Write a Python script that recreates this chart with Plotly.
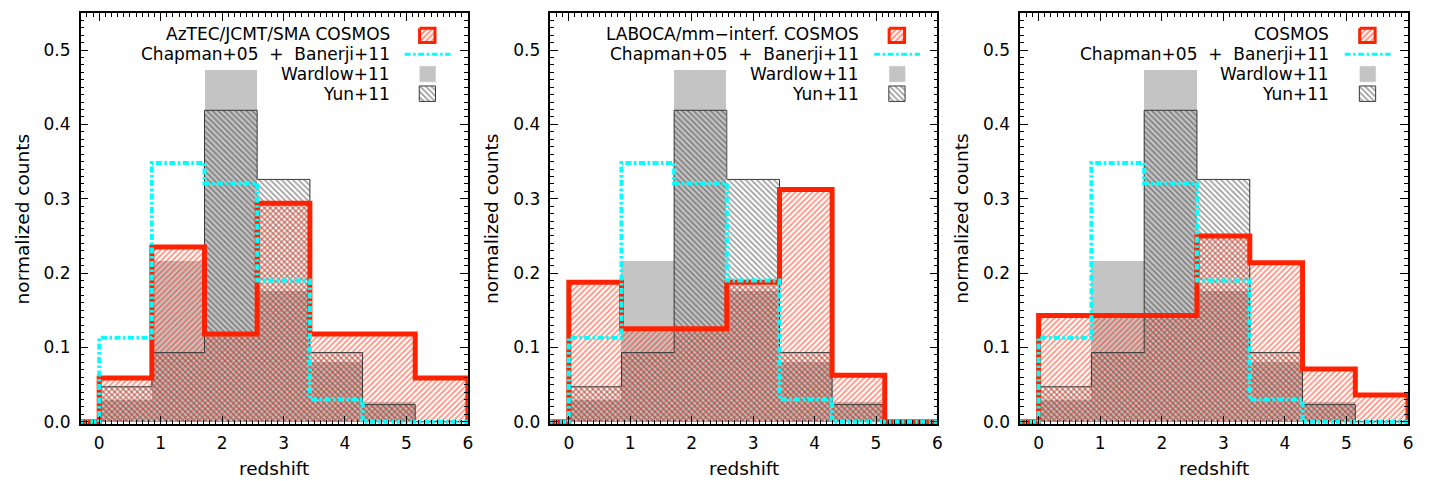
import plotly.graph_objects as go

# ---------------- data ----------------
bin_edges = [0.0, 0.857, 1.714, 2.571, 3.429, 4.286, 5.143, 6.0]

aztec_cosmos = [0.059, 0.235, 0.118, 0.294, 0.118, 0.118, 0.059]
laboca_cosmos = [0.1875, 0.125, 0.125, 0.1875, 0.3125, 0.0625, 0.0]
combined_cosmos = [0.143, 0.143, 0.143, 0.250, 0.214, 0.071, 0.036]
chapman_banerji = [0.113, 0.348, 0.321, 0.190, 0.030, 0.0, 0.0]
wardlow = [0.029, 0.216, 0.473, 0.176, 0.080, 0.027, 0.0]
yun = [0.047, 0.093, 0.419, 0.326, 0.093, 0.023, 0.0]

panel_series = [aztec_cosmos, laboca_cosmos, combined_cosmos]
panel_labels = ["AzTEC/JCMT/SMA COSMOS", "LABOCA/mm\u2212interf. COSMOS", "COSMOS"]
legend_labels = ["Chapman+05  +  Banerji+11", "Wardlow+11", "Yun+11"]
x_ticks = [0, 1, 2, 3, 4, 5, 6]
y_ticks = [0.0, 0.1, 0.2, 0.3, 0.4, 0.5]
x_title = "redshift"
y_title = "normalized counts"

# ---------------- styles ----------------
RED = "#ff2200"
CYAN = "#00ffff"
GRAY = "#c4c4c4"
DARK = "#383838"
FONT = "DejaVu Sans"
XR = [-0.3, 6.0]
YR = [-0.003, 0.55]
W, H = 1432, 481
x_dom_px = [(73, 461.5), (544.3, 932.7), (1015.7, 1405.0)]
y_top_px, y_bot_px = 5.0, 423.0
DASH = "6px,2.5px,2.5px,2.5px"

centers = [(bin_edges[i] + bin_edges[i + 1]) / 2 for i in range(len(bin_edges) - 1)]
widths = [bin_edges[i + 1] - bin_edges[i] for i in range(len(bin_edges) - 1)]


def step_xy(vals, pad=True):
    xs = ([XR[0] - 0.5] if pad else []) + bin_edges[:-1] + [bin_edges[-1]] + ([XR[1] + 0.5] if pad else [])
    ys = ([0.0] if pad else []) + list(vals) + [0.0] + ([0.0] if pad else [])
    return xs, ys


def px2x(p):
    return XR[0] + p / (x_dom_px[0][1] - x_dom_px[0][0]) * (XR[1] - XR[0])


def px2y(p):
    return YR[1] - (p - y_top_px) / (y_bot_px - y_top_px) * (YR[1] - YR[0])


def box(x0, x1, y0, y1):
    return ([px2x(x0), px2x(x1), px2x(x1), px2x(x0), px2x(x0)],
            [px2y(y0), px2y(y0), px2y(y1), px2y(y1), px2y(y0)])


fig = go.Figure()

for k in range(3):
    xa = "x" if k == 0 else f"x{k+1}"
    ya = "y" if k == 0 else f"y{k+1}"
    red_vals = panel_series[k]

    # Wardlow+11 solid gray
    fig.add_trace(go.Bar(x=centers, y=wardlow, width=widths, xaxis=xa, yaxis=ya,
                         marker=dict(color=GRAY, line=dict(width=0)), showlegend=False))
    # Yun+11 hatched
    fig.add_trace(go.Bar(x=centers, y=yun, width=widths, xaxis=xa, yaxis=ya,
                         marker=dict(color="rgba(0,0,0,0)", line=dict(width=0),
                                     pattern=dict(shape="\\", fgcolor=DARK, bgcolor="rgba(0,0,0,0)",
                                                  size=4, solidity=0.4, fillmode="overlay")),
                         showlegend=False))
    # COSMOS red hatched
    fig.add_trace(go.Bar(x=centers, y=red_vals, width=widths, xaxis=xa, yaxis=ya,
                         marker=dict(color="rgba(0,0,0,0)", line=dict(width=0),
                                     pattern=dict(shape="/", fgcolor=RED, bgcolor="rgba(0,0,0,0)",
                                                  size=4, solidity=0.45, fillmode="overlay")),
                         showlegend=False))
    # Yun outline
    sx, sy = step_xy(yun, pad=False)
    fig.add_trace(go.Scatter(x=sx, y=sy, mode="lines", line=dict(color=DARK, width=1, shape="hv"),
                             xaxis=xa, yaxis=ya, showlegend=False, hoverinfo="skip"))
    # red outline
    sx, sy = step_xy(red_vals)
    fig.add_trace(go.Scatter(x=sx, y=sy, mode="lines", line=dict(color=RED, width=5, shape="hv"),
                             xaxis=xa, yaxis=ya, showlegend=False, hoverinfo="skip"))
    # cyan Chapman+Banerji
    sx, sy = step_xy(chapman_banerji)
    fig.add_trace(go.Scatter(x=sx, y=sy, mode="lines",
                             line=dict(color=CYAN, width=4, shape="hv", dash=DASH),
                             xaxis=xa, yaxis=ya, showlegend=False, hoverinfo="skip"))

    # ----- legend icons (layout decoration) -----
    bx, by = box(340.0, 355.5, 20.5, 35.0)
    fig.add_trace(go.Scatter(x=bx, y=by, mode="lines", fill="toself", fillcolor="rgba(0,0,0,0)",
                             fillpattern=dict(shape="/", fgcolor=RED, bgcolor="rgba(0,0,0,0)", size=4, solidity=0.5),
                             line=dict(color=RED, width=3), xaxis=xa, yaxis=ya, showlegend=False, hoverinfo="skip"))
    fig.add_trace(go.Scatter(x=[px2x(325), px2x(371)], y=[px2y(47), px2y(47)], mode="lines",
                             line=dict(color=CYAN, width=3, dash=DASH),
                             xaxis=xa, yaxis=ya, showlegend=False, hoverinfo="skip"))
    bx, by = box(340.3, 356.0, 59.3, 75.0)
    fig.add_trace(go.Scatter(x=bx, y=by, mode="lines", fill="toself", fillcolor=GRAY,
                             line=dict(color=GRAY, width=0.5), xaxis=xa, yaxis=ya, showlegend=False, hoverinfo="skip"))
    bx, by = box(339.7, 356.0, 79.3, 95.0)
    fig.add_trace(go.Scatter(x=bx, y=by, mode="lines", fill="toself", fillcolor="rgba(0,0,0,0)",
                             fillpattern=dict(shape="\\", fgcolor=DARK, bgcolor="rgba(0,0,0,0)", size=4, solidity=0.4),
                             line=dict(color=DARK, width=1), xaxis=xa, yaxis=ya, showlegend=False, hoverinfo="skip"))

annotations = []
axis_common = dict(showline=True, linecolor="black", linewidth=1.5, mirror="ticks", ticks="inside",
                   tickcolor="black", tickwidth=1, showgrid=False, zeroline=False,
                   tickfont=dict(family=FONT, size=17, color="black"))
layout = dict(width=W, height=H, autosize=False, margin=dict(l=0, r=0, t=0, b=0),
              plot_bgcolor="white", paper_bgcolor="white", barmode="overlay", bargap=0,
              showlegend=False)

y_dom = [(H - y_bot_px) / H, (H - y_top_px) / H]
for k in range(3):
    xname = "xaxis" if k == 0 else f"xaxis{k+1}"
    yname = "yaxis" if k == 0 else f"yaxis{k+1}"
    xref = "x" if k == 0 else f"x{k+1}"
    yref = "y" if k == 0 else f"y{k+1}"
    x0p, x1p = x_dom_px[k]
    layout[xname] = dict(axis_common, domain=[x0p / W, x1p / W], range=XR, tickvals=x_ticks,
                         ticklen=8, ticklabelstandoff=3, anchor=yref,
                         minor=dict(dtick=0.1, ticklen=4, ticks="inside", tickcolor="black", tickwidth=1))
    layout[yname] = dict(axis_common, domain=y_dom, range=YR, tickvals=y_ticks, tickformat=".1f",
                         ticklen=8, ticklabelstandoff=5, anchor=xref,
                         minor=dict(dtick=0.01, ticklen=4, ticks="inside", tickcolor="black", tickwidth=1))

    pw = x1p - x0p
    ph = y_bot_px - y_top_px
    texts = [panel_labels[k]] + legend_labels
    rows_px = [26.7, 46.7, 66.7, 87.3]
    for t, rp in zip(texts, rows_px):
        annotations.append(dict(text=t, xref=f"{xref} domain", yref=f"{yref} domain",
                                x=312 / pw, y=(y_bot_px - rp) / ph, xanchor="right", yanchor="middle",
                                showarrow=False, font=dict(family=FONT, size=17, color="black")))
    annotations.append(dict(text=x_title, xref=f"{xref} domain", yref=f"{yref} domain",
                            x=0.5, y=(y_bot_px - 468) / ph, xanchor="center", yanchor="middle",
                            showarrow=False, font=dict(family=FONT, size=18.5, color="black")))
    annotations.append(dict(text=y_title, xref=f"{xref} domain", yref=f"{yref} domain",
                            x=-59 / pw, y=0.5, xanchor="center", yanchor="middle", textangle=-90,
                            showarrow=False, font=dict(family=FONT, size=18.5, color="black")))

layout["annotations"] = annotations
fig.update_layout(**layout)
fig.write_html("out.html")
